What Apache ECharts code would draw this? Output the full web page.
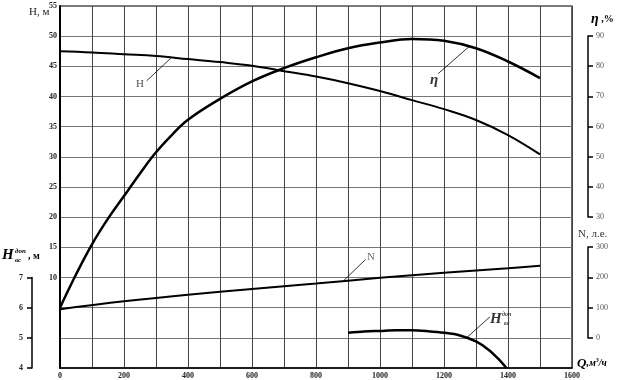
<!DOCTYPE html>
<html><head><meta charset="utf-8">
<script src="https://cdn.jsdelivr.net/npm/echarts/dist/echarts.min.js"></script>
<style>html,body{margin:0;padding:0;background:#fff}#c{width:632px;height:380px}</style>
</head><body><div id="c"></div>
<script>
// Head curve H(Q), m
const headQ = [0,100,200,300,400,500,600,700,800,900,1000,1100,1200,1300,1400,1500];
const headH = [47.5,47.3,47.0,46.7,46.2,45.7,45.1,44.2,43.3,42.2,40.9,39.4,37.9,36.1,33.6,30.4];
// Efficiency curve eta(Q), %
const effQ = [0,50,100,150,200,250,300,350,400,500,600,700,800,900,1000,1100,1200,1300,1400,1500];
const effEta = [0,11,21,29.5,37,44.5,51.5,57.3,62.3,69.2,75,79.4,83,86,87.9,89.1,88.5,86,81.6,76.1];
// Power curve N(Q)
const powQ = [0,200,400,600,800,1000,1200,1400,1500];
const powN = [95,121,143,162,180,199,216,231,239];
// Permissible suction head Hdop(Q), m
const npshQ = [900,950,1000,1050,1100,1150,1200,1250,1300,1340,1370,1395];
const npshH = [5.17,5.21,5.23,5.25,5.25,5.22,5.17,5.08,4.88,4.6,4.3,4.0];
// Tick label sets
const qTicks = [0,200,400,600,800,1000,1200,1400,1600];
const hTicks = [10,15,20,25,30,35,40,45,50,55];
// Annotations (in Q / H-axis units)
const leaderH = [[271,42.6],[349,46.5]];
const leaderEta = [[1182,43.8],[1281,48.4]];
const leaderN = [[883,9.3],[955,13.0]];
const leaderNpsh = [[1271,0.02],[1344,3.5]];

const SERIF = '"Liberation Serif","Times New Roman",serif';
const zip = (a,b)=>a.map((v,i)=>[v,b[i]]);

const chart = echarts.init(document.getElementById('c'));
const lblDark = {fontFamily:SERIF,fontSize:8,fontWeight:'bold',color:'#222'};
const lblLight = {fontFamily:SERIF,fontSize:8,color:'#555'};

function leader(d){return {type:'line',xAxisIndex:0,yAxisIndex:0,data:d,symbol:'none',silent:true,
  lineStyle:{color:'#000',width:0.8},z:5};}
function textMark(pt,lbl){return {type:'scatter',xAxisIndex:0,yAxisIndex:0,symbolSize:0,silent:true,data:[pt],
  label:Object.assign({show:true,position:[0,0],align:'center',verticalAlign:'middle',fontFamily:SERIF},lbl)};}

chart.setOption({
  animation:false,
  grid:[
    {left:60,top:6,width:512,height:362,show:true,borderColor:'#000',borderWidth:1.2},
    {left:32,top:277.5,width:1,height:90.5},
    {left:587,top:36,width:1,height:181},
    {left:587,top:247,width:1,height:91}
  ],
  xAxis:[
    {gridIndex:0,type:'value',min:0,max:1600,interval:100,
     axisLine:{show:true,onZero:false,lineStyle:{color:'#000',width:1.5}},axisTick:{show:false},
     splitLine:{show:true,lineStyle:{color:'#444',width:1}},
     axisLabel:Object.assign({margin:4,formatter:v=>qTicks.includes(v)?String(v):''},lblDark)},
    {gridIndex:1,type:'value',show:false},
    {gridIndex:2,type:'value',show:false},
    {gridIndex:3,type:'value',show:false}
  ],
  yAxis:[
    {gridIndex:0,type:'value',min:-5,max:55,interval:5,
     axisLine:{show:true,onZero:false,lineStyle:{color:'#000',width:2}},axisTick:{show:false},
     splitLine:{show:true,lineStyle:{color:'#777',width:1}},
     axisLabel:Object.assign({margin:3,formatter:v=>hTicks.includes(v)?String(v):''},lblDark)},
    {gridIndex:0,type:'value',min:-20,max:100,show:false},
    {gridIndex:0,type:'value',min:-100,max:1100,show:false},
    {gridIndex:0,type:'value',min:4,max:16,show:false},
    {gridIndex:1,type:'value',min:4,max:7,interval:1,position:'left',
     axisLine:{show:true,onZero:false,lineStyle:{color:'#000',width:1.5}},
     axisTick:{show:true,length:5,lineStyle:{color:'#000',width:1.5}},splitLine:{show:false},
     axisLabel:Object.assign({margin:9},lblDark)},
    {gridIndex:2,type:'value',min:30,max:90,interval:10,position:'right',
     axisLine:{show:true,onZero:false,lineStyle:{color:'#000',width:1.5}},
     axisTick:{show:true,length:5,lineStyle:{color:'#000',width:1.5}},splitLine:{show:false},
     axisLabel:Object.assign({margin:8},lblLight)},
    {gridIndex:3,type:'value',min:0,max:300,interval:100,position:'right',
     axisLine:{show:true,onZero:false,lineStyle:{color:'#000',width:1.5}},
     axisTick:{show:true,length:5,lineStyle:{color:'#000',width:1.5}},splitLine:{show:false},
     axisLabel:Object.assign({margin:8},lblLight)}
  ],
  series:[
    {type:'line',name:'H',xAxisIndex:0,yAxisIndex:0,data:zip(headQ,headH),smooth:0.4,symbol:'none',lineStyle:{color:'#000',width:2},z:4},
    {type:'line',name:'eta',xAxisIndex:0,yAxisIndex:1,data:zip(effQ,effEta),smooth:0.4,symbol:'none',lineStyle:{color:'#000',width:2.5},z:4},
    {type:'line',name:'N',xAxisIndex:0,yAxisIndex:2,data:zip(powQ,powN),smooth:0.4,symbol:'none',lineStyle:{color:'#000',width:2},z:4},
    {type:'line',name:'Hdop',xAxisIndex:0,yAxisIndex:3,data:zip(npshQ,npshH),smooth:0.3,symbol:'none',lineStyle:{color:'#000',width:2.5},z:4},
    leader(leaderH),leader(leaderEta),leader(leaderN),leader(leaderNpsh),
    textMark([250,42.1],{formatter:'H',fontSize:11,color:'#222'}),
    textMark([1169,42.7],{formatter:'η',fontSize:15,fontWeight:'bold',fontStyle:'italic',color:'#000'}),
    textMark([972,13.4],{formatter:'N',fontSize:11,color:'#444'}),
    textMark([1362,3.1],{formatter:'H',fontSize:15,fontWeight:'bold',fontStyle:'italic',color:'#000'}),
    textMark([1396,3.2],{formatter:'доп\nвс',fontSize:6,lineHeight:9,fontWeight:'bold',fontStyle:'italic',color:'#000'})
  ],
  graphic:[
    {type:'text',left:29,top:7,style:{text:'H, м',font:'11px '+SERIF,fill:'#222'}},
    {type:'text',left:591,top:12,style:{text:'{a|η}{b| ,%}',rich:{a:{font:'bold italic 14px '+SERIF,fill:'#000'},b:{font:'bold 10px '+SERIF,fill:'#000'}}}},
    {type:'text',left:578,top:229,style:{text:'N, л.е.',font:'11px '+SERIF,fill:'#333'}},
    {type:'text',left:577,top:357,style:{text:'{q|Q}{b|,м}{s|3}{b|/ч}',rich:{q:{font:'bold italic 13px '+SERIF,fill:'#000'},b:{font:'bold italic 10px '+SERIF,fill:'#000'},s:{font:'bold italic 6px '+SERIF,fill:'#000',verticalAlign:'top'}}}},
    {type:'text',left:2,top:248,style:{text:'H',font:'bold italic 15px '+SERIF,fill:'#000'}},
    {type:'text',left:15,top:247,style:{text:'доп\nвс',font:'bold italic 7px '+SERIF,lineHeight:9,fill:'#000'}},
    {type:'text',left:28,top:251,style:{text:', м',font:'bold 10px '+SERIF,fill:'#000'}}
  ]
});
</script></body></html>
